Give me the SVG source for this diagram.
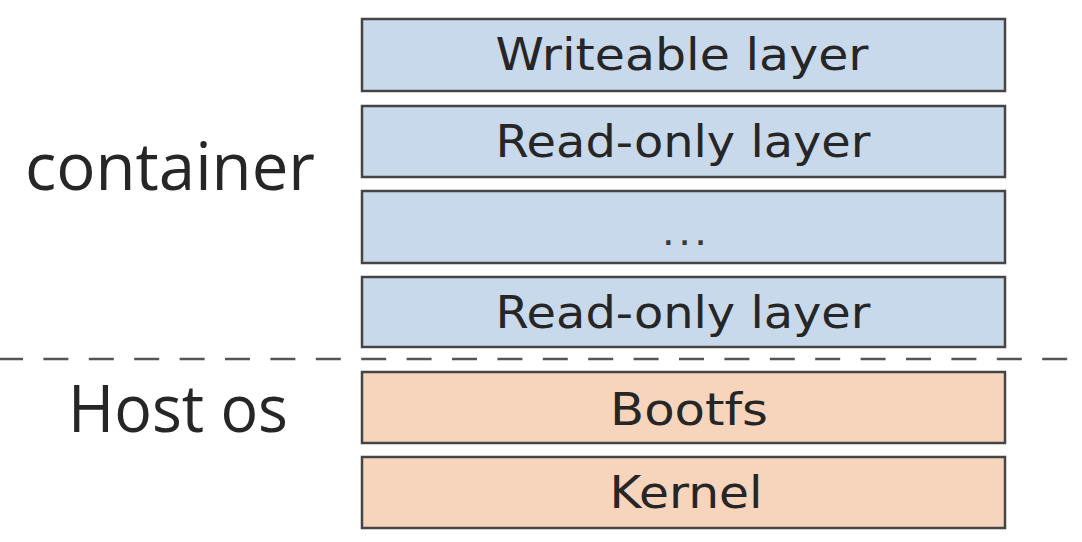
<svg xmlns="http://www.w3.org/2000/svg" width="1082" height="542" viewBox="0 0 1082 542">
<style>
.box{stroke:#454545;stroke-width:2.5}
.blue{fill:#c9d9ec}
.orange{fill:#f7d5bc}
.lt{font-family:"DejaVu Sans",Verdana,sans-serif;font-size:44px;fill:#262626;text-anchor:middle}
.side{font-family:"Open Sans","DejaVu Sans",sans-serif;font-size:66px;fill:#262626}
.sep{stroke:#555;stroke-width:2.5;stroke-dasharray:25 20.4;fill:none}
</style>
<rect width="1082" height="542" fill="#ffffff"/>
<g id="label-container"><text class="side" x="25" y="190" textLength="290" lengthAdjust="spacingAndGlyphs">container</text></g>
<g id="label-hostos"><text class="side" x="68" y="432" textLength="220" lengthAdjust="spacingAndGlyphs">Host os</text></g>
<g id="connectors"><line class="sep" x1="-2" y1="359" x2="1068" y2="359"/></g>
<g id="writeable"><rect class="box blue" x="362" y="19" width="643" height="72"/><text class="lt" x="682" y="70" textLength="373" lengthAdjust="spacingAndGlyphs">Writeable layer</text></g>
<g id="readonly1"><rect class="box blue" x="362" y="106" width="643" height="71"/><text class="lt" x="683" y="157" textLength="375" lengthAdjust="spacingAndGlyphs">Read-only layer</text></g>
<g id="ellipsis"><rect class="box blue" x="362" y="191" width="643" height="72"/><text x="688" y="245" style="font-family:'DejaVu Sans',sans-serif;font-size:24px;font-weight:bold;fill:#3a3a3a;text-anchor:middle;letter-spacing:7px">...</text></g>
<g id="readonly2"><rect class="box blue" x="362" y="277" width="643" height="70"/><text class="lt" x="683" y="328" textLength="375" lengthAdjust="spacingAndGlyphs">Read-only layer</text></g>
<g id="bootfs"><rect class="box orange" x="362" y="372" width="643" height="71"/><text class="lt" x="689" y="425" textLength="158" lengthAdjust="spacingAndGlyphs">Bootfs</text></g>
<g id="kernel"><rect class="box orange" x="362" y="457" width="643" height="71"/><text class="lt" x="686" y="508" textLength="153" lengthAdjust="spacingAndGlyphs">Kernel</text></g>
</svg>
